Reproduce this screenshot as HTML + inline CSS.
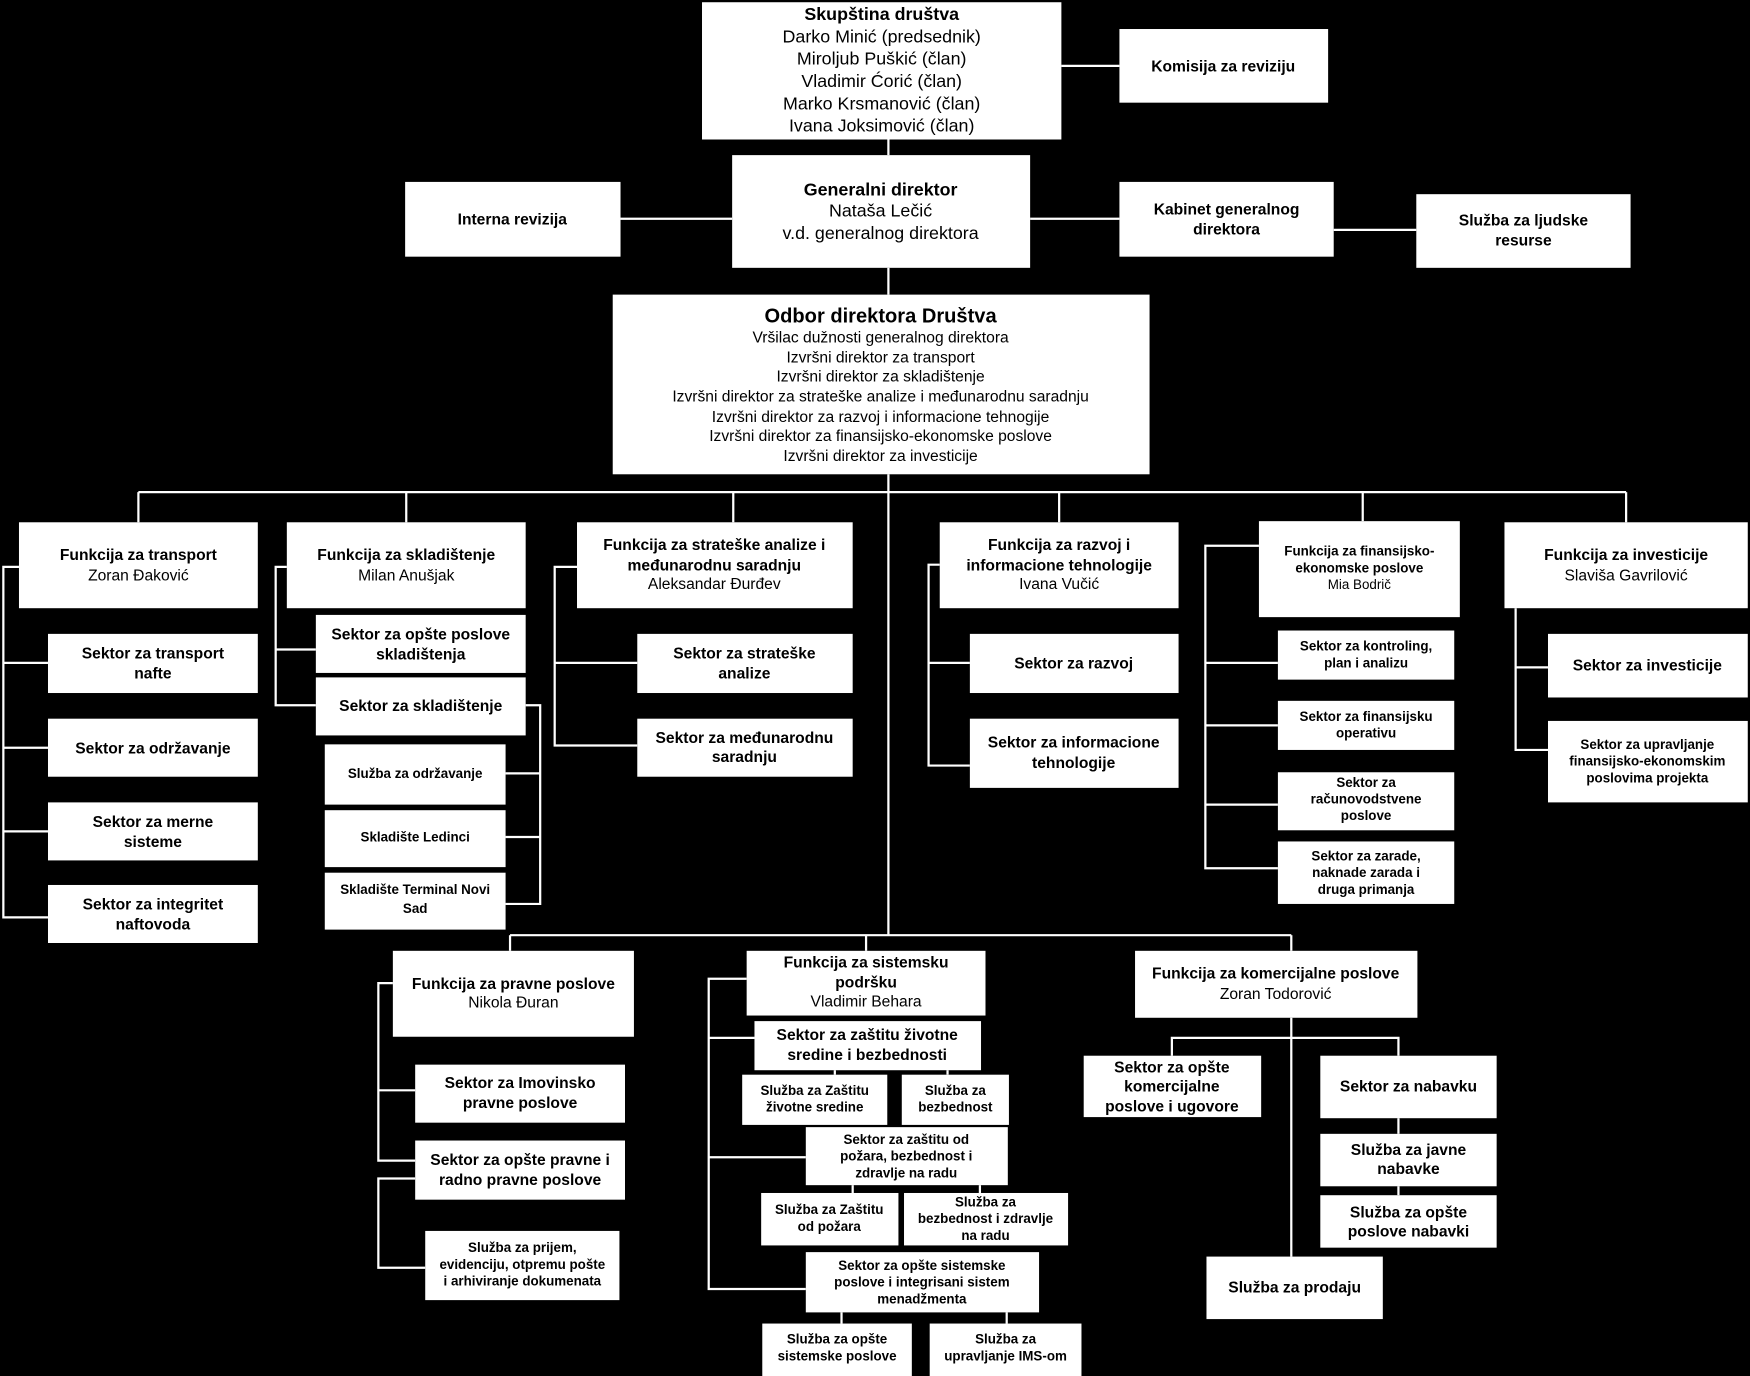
<!DOCTYPE html>
<html><head><meta charset="utf-8"><style>
html,body{margin:0;padding:0;background:#000;}
svg{display:block;}
text{font-family:"Liberation Sans",Arial,sans-serif;fill:#000;text-anchor:middle;}
.b{font-weight:bold;}
rect{fill:#fff;}
line,polyline{stroke:#fff;stroke-width:2;fill:none;}
</style></head><body>
<svg width="1750" height="1376" viewBox="0 0 1568 1233" preserveAspectRatio="none" xmlns="http://www.w3.org/2000/svg">
<rect x="0" y="0" width="1568" height="1233" style="fill:#000"/>
<!-- connectors -->
<line x1="951" y1="59" x2="1003" y2="59"/>
<line x1="796" y1="125" x2="796" y2="139"/>
<line x1="556" y1="196" x2="656" y2="196"/>
<line x1="923" y1="196" x2="1003" y2="196"/>
<line x1="1195" y1="206" x2="1269" y2="206"/>
<line x1="796" y1="240" x2="796" y2="264"/>
<line x1="796" y1="425" x2="796" y2="838"/>
<line x1="124" y1="441" x2="1457" y2="441"/>
<line x1="124" y1="441" x2="124" y2="468"/>
<line x1="364" y1="441" x2="364" y2="468"/>
<line x1="657" y1="441" x2="657" y2="468"/>
<line x1="949" y1="441" x2="949" y2="468"/>
<line x1="1221" y1="441" x2="1221" y2="467"/>
<line x1="1457" y1="441" x2="1457" y2="468"/>
<!-- transport -->
<polyline points="17,508 3,508 3,822 43,822"/>
<line x1="3" y1="594" x2="43" y2="594"/>
<line x1="3" y1="670" x2="43" y2="670"/>
<line x1="3" y1="745" x2="43" y2="745"/>
<!-- skladistenje -->
<polyline points="257,508 247,508 247,632 283,632"/>
<line x1="247" y1="582" x2="283" y2="582"/>
<polyline points="471,632 484,632 484,810 453,810"/>
<line x1="453" y1="693" x2="484" y2="693"/>
<line x1="453" y1="750" x2="484" y2="750"/>
<!-- strateske -->
<polyline points="517,508 497,508 497,668 571,668"/>
<line x1="497" y1="594" x2="571" y2="594"/>
<!-- razvoj -->
<polyline points="842,506 832,506 832,686 869,686"/>
<line x1="832" y1="594" x2="869" y2="594"/>
<!-- finansijsko -->
<polyline points="1128,489 1080,489 1080,778 1145,778"/>
<line x1="1080" y1="594" x2="1145" y2="594"/>
<line x1="1080" y1="650" x2="1145" y2="650"/>
<line x1="1080" y1="721" x2="1145" y2="721"/>
<!-- investicije -->
<polyline points="1358,545 1358,672 1387,672"/>
<line x1="1358" y1="598" x2="1387" y2="598"/>
<!-- bottom bus -->
<line x1="457" y1="838" x2="1157" y2="838"/>
<line x1="457" y1="838" x2="457" y2="852"/>
<line x1="776" y1="838" x2="776" y2="852"/>
<line x1="1157" y1="838" x2="1157" y2="852"/>
<!-- pravne -->
<polyline points="352,881 339,881 339,1040 372,1040"/>
<line x1="339" y1="977" x2="372" y2="977"/>
<polyline points="372,1056 339,1056 339,1136 381,1136"/>
<!-- sistemska -->
<polyline points="669,877 635,877 635,1155 722,1155"/>
<line x1="635" y1="930" x2="676" y2="930"/>
<line x1="635" y1="1037" x2="722" y2="1037"/>
<line x1="748" y1="959" x2="748" y2="963"/>
<line x1="849" y1="959" x2="849" y2="963"/>
<line x1="764" y1="1062" x2="764" y2="1069"/>
<line x1="878" y1="1062" x2="878" y2="1069"/>
<line x1="754" y1="1176" x2="754" y2="1186"/>
<line x1="902" y1="1176" x2="902" y2="1186"/>
<!-- komercijalne -->
<line x1="1157" y1="912" x2="1157" y2="1126"/>
<polyline points="1050,946 1050,930 1253,930 1253,946"/>
<line x1="1253" y1="1002" x2="1253" y2="1016"/>
<line x1="1253" y1="1063" x2="1253" y2="1071"/>

<!-- boxes -->
<rect x="629" y="2" width="322" height="123"/>
<text class="b" x="790" y="18" font-size="16">Skupština društva</text>
<text x="790" y="38" font-size="16">Darko Minić (predsednik)</text>
<text x="790" y="58" font-size="16">Miroljub Puškić (član)</text>
<text x="790" y="78" font-size="16">Vladimir Ćorić (član)</text>
<text x="790" y="98" font-size="16">Marko Krsmanović (član)</text>
<text x="790" y="118" font-size="16">Ivana Joksimović (član)</text>

<rect x="1003" y="26" width="187" height="66"/>
<text class="b" x="1096" y="64" font-size="14">Komisija za reviziju</text>

<rect x="656" y="139" width="267" height="101"/>
<text class="b" x="789" y="175" font-size="16">Generalni direktor</text>
<text x="789" y="194" font-size="16">Nataša Lečić</text>
<text x="789" y="214" font-size="16">v.d. generalnog direktora</text>

<rect x="363" y="163" width="193" height="67"/>
<text class="b" x="459" y="201" font-size="14">Interna revizija</text>

<rect x="1003" y="163" width="192" height="67"/>
<text class="b" x="1099" y="192" font-size="14">Kabinet generalnog</text>
<text class="b" x="1099" y="210" font-size="14">direktora</text>

<rect x="1269" y="174" width="192" height="66"/>
<text class="b" x="1365" y="202" font-size="14">Služba za ljudske</text>
<text class="b" x="1365" y="220" font-size="14">resurse</text>

<rect x="549" y="264" width="481" height="161"/>
<text class="b" x="789" y="289" font-size="18">Odbor direktora Društva</text>
<text x="789" y="307" font-size="14">Vršilac dužnosti generalnog direktora</text>
<text x="789" y="325" font-size="14">Izvršni direktor za transport</text>
<text x="789" y="342" font-size="14">Izvršni direktor za skladištenje</text>
<text x="789" y="360" font-size="14">Izvršni direktor za strateške analize i međunarodnu saradnju</text>
<text x="789" y="378" font-size="14">Izvršni direktor za razvoj i informacione tehnogije</text>
<text x="789" y="395" font-size="14">Izvršni direktor za finansijsko-ekonomske poslove</text>
<text x="789" y="413" font-size="14">Izvršni direktor za investicije</text>

<!-- functions -->
<rect x="17" y="468" width="214" height="77"/>
<text class="b" x="124" y="502" font-size="14">Funkcija za transport</text>
<text x="124" y="520" font-size="14">Zoran Đaković</text>
<rect x="257" y="468" width="214" height="77"/>
<text class="b" x="364" y="502" font-size="14">Funkcija za skladištenje</text>
<text x="364" y="520" font-size="14">Milan Anušjak</text>
<rect x="517" y="468" width="247" height="77"/>
<text class="b" x="640" y="493" font-size="14">Funkcija za strateške analize i</text>
<text class="b" x="640" y="511" font-size="14">međunarodnu saradnju</text>
<text x="640" y="528" font-size="14">Aleksandar Đurđev</text>
<rect x="842" y="468" width="214" height="77"/>
<text class="b" x="949" y="493" font-size="14">Funkcija za razvoj i</text>
<text class="b" x="949" y="511" font-size="14">informacione tehnologije</text>
<text x="949" y="528" font-size="14">Ivana Vučić</text>
<rect x="1128" y="467" width="180" height="86"/>
<text class="b" x="1218" y="498" font-size="12">Funkcija za finansijsko-</text>
<text class="b" x="1218" y="513" font-size="12">ekonomske poslove</text>
<text x="1218" y="528" font-size="12">Mia Bodrič</text>
<rect x="1348" y="468" width="218" height="77"/>
<text class="b" x="1457" y="502" font-size="14">Funkcija za investicije</text>
<text x="1457" y="520" font-size="14">Slaviša Gavrilović</text>

<!-- transport children -->
<rect x="43" y="568" width="188" height="53"/>
<text class="b" x="137" y="590" font-size="14">Sektor za transport</text>
<text class="b" x="137" y="608" font-size="14">nafte</text>
<rect x="43" y="644" width="188" height="52"/>
<text class="b" x="137" y="675" font-size="14">Sektor za održavanje</text>
<rect x="43" y="719" width="188" height="52"/>
<text class="b" x="137" y="741" font-size="14">Sektor za merne</text>
<text class="b" x="137" y="759" font-size="14">sisteme</text>
<rect x="43" y="793" width="188" height="52"/>
<text class="b" x="137" y="815" font-size="14">Sektor za integritet</text>
<text class="b" x="137" y="833" font-size="14">naftovoda</text>

<!-- skladistenje children -->
<rect x="283" y="551" width="188" height="52"/>
<text class="b" x="377" y="573" font-size="14">Sektor za opšte poslove</text>
<text class="b" x="377" y="591" font-size="14">skladištenja</text>
<rect x="283" y="607" width="188" height="52"/>
<text class="b" x="377" y="637" font-size="14">Sektor za skladištenje</text>
<rect x="291" y="667" width="162" height="54"/>
<text class="b" x="372" y="697" font-size="12">Služba za održavanje</text>
<rect x="291" y="726" width="162" height="51"/>
<text class="b" x="372" y="754" font-size="12">Skladište Ledinci</text>
<rect x="291" y="782" width="162" height="51"/>
<text class="b" x="372" y="801" font-size="12">Skladište Terminal Novi</text>
<text class="b" x="372" y="818" font-size="12">Sad</text>

<!-- strateske children -->
<rect x="571" y="568" width="193" height="53"/>
<text class="b" x="667" y="590" font-size="14">Sektor za strateške</text>
<text class="b" x="667" y="608" font-size="14">analize</text>
<rect x="571" y="644" width="193" height="52"/>
<text class="b" x="667" y="666" font-size="14">Sektor za međunarodnu</text>
<text class="b" x="667" y="683" font-size="14">saradnju</text>

<!-- razvoj children -->
<rect x="869" y="568" width="187" height="53"/>
<text class="b" x="962" y="599" font-size="14">Sektor za razvoj</text>
<rect x="869" y="644" width="187" height="62"/>
<text class="b" x="962" y="670" font-size="14">Sektor za informacione</text>
<text class="b" x="962" y="688" font-size="14">tehnologije</text>

<!-- finansijsko children -->
<rect x="1145" y="565" width="158" height="44"/>
<text class="b" x="1224" y="583" font-size="12">Sektor za kontroling,</text>
<text class="b" x="1224" y="598" font-size="12">plan i analizu</text>
<rect x="1145" y="628" width="158" height="44"/>
<text class="b" x="1224" y="646" font-size="12">Sektor za finansijsku</text>
<text class="b" x="1224" y="661" font-size="12">operativu</text>
<rect x="1145" y="692" width="158" height="52"/>
<text class="b" x="1224" y="705" font-size="12">Sektor za</text>
<text class="b" x="1224" y="720" font-size="12">računovodstvene</text>
<text class="b" x="1224" y="735" font-size="12">poslove</text>
<rect x="1145" y="754" width="158" height="56"/>
<text class="b" x="1224" y="771" font-size="12">Sektor za zarade,</text>
<text class="b" x="1224" y="786" font-size="12">naknade zarada i</text>
<text class="b" x="1224" y="801" font-size="12">druga primanja</text>

<!-- investicije children -->
<rect x="1387" y="568" width="179" height="57"/>
<text class="b" x="1476" y="601" font-size="14">Sektor za investicije</text>
<rect x="1387" y="646" width="179" height="73"/>
<text class="b" x="1476" y="671" font-size="12">Sektor za upravljanje</text>
<text class="b" x="1476" y="686" font-size="12">finansijsko-ekonomskim</text>
<text class="b" x="1476" y="701" font-size="12">poslovima projekta</text>

<!-- pravne -->
<rect x="352" y="852" width="216" height="77"/>
<text class="b" x="460" y="886" font-size="14">Funkcija za pravne poslove</text>
<text x="460" y="903" font-size="14">Nikola Đuran</text>
<rect x="372" y="954" width="188" height="52"/>
<text class="b" x="466" y="975" font-size="14">Sektor za Imovinsko</text>
<text class="b" x="466" y="993" font-size="14">pravne poslove</text>
<rect x="372" y="1022" width="188" height="53"/>
<text class="b" x="466" y="1044" font-size="14">Sektor za opšte pravne i</text>
<text class="b" x="466" y="1062" font-size="14">radno pravne poslove</text>
<rect x="381" y="1103" width="174" height="62"/>
<text class="b" x="468" y="1122" font-size="12">Služba za prijem,</text>
<text class="b" x="468" y="1137" font-size="12">evidenciju, otpremu pošte</text>
<text class="b" x="468" y="1152" font-size="12">i arhiviranje dokumenata</text>

<!-- sistemska -->
<rect x="669" y="852" width="214" height="58"/>
<text class="b" x="776" y="867" font-size="14">Funkcija za sistemsku</text>
<text class="b" x="776" y="885" font-size="14">podršku</text>
<text x="776" y="902" font-size="14">Vladimir Behara</text>
<rect x="676" y="915" width="203" height="44"/>
<text class="b" x="777" y="932" font-size="14">Sektor za zaštitu životne</text>
<text class="b" x="777" y="950" font-size="14">sredine i bezbednosti</text>
<rect x="665" y="963" width="130" height="45"/>
<text class="b" x="730" y="981" font-size="12">Služba za Zaštitu</text>
<text class="b" x="730" y="996" font-size="12">životne sredine</text>
<rect x="808" y="963" width="96" height="45"/>
<text class="b" x="856" y="981" font-size="12">Služba za</text>
<text class="b" x="856" y="996" font-size="12">bezbednost</text>
<rect x="722" y="1010" width="181" height="52"/>
<text class="b" x="812" y="1025" font-size="12">Sektor za zaštitu od</text>
<text class="b" x="812" y="1040" font-size="12">požara, bezbednost i</text>
<text class="b" x="812" y="1055" font-size="12">zdravlje na radu</text>
<rect x="682" y="1069" width="123" height="47"/>
<text class="b" x="743" y="1088" font-size="12">Služba za Zaštitu</text>
<text class="b" x="743" y="1103" font-size="12">od požara</text>
<rect x="810" y="1069" width="147" height="47"/>
<text class="b" x="883" y="1081" font-size="12">Služba za</text>
<text class="b" x="883" y="1096" font-size="12">bezbednost i zdravlje</text>
<text class="b" x="883" y="1111" font-size="12">na radu</text>
<rect x="722" y="1122" width="209" height="54"/>
<text class="b" x="826" y="1138" font-size="12">Sektor za opšte sistemske</text>
<text class="b" x="826" y="1153" font-size="12">poslove i integrisani sistem</text>
<text class="b" x="826" y="1168" font-size="12">menadžmenta</text>
<rect x="683" y="1186" width="134" height="47"/>
<text class="b" x="750" y="1204" font-size="12">Služba za opšte</text>
<text class="b" x="750" y="1219" font-size="12">sistemske poslove</text>
<rect x="833" y="1186" width="136" height="47"/>
<text class="b" x="901" y="1204" font-size="12">Služba za</text>
<text class="b" x="901" y="1219" font-size="12">upravljanje IMS-om</text>

<!-- komercijalne -->
<rect x="1017" y="852" width="253" height="60"/>
<text class="b" x="1143" y="877" font-size="14">Funkcija za komercijalne poslove</text>
<text x="1143" y="895" font-size="14">Zoran Todorović</text>
<rect x="971" y="946" width="159" height="55"/>
<text class="b" x="1050" y="961" font-size="14">Sektor za opšte</text>
<text class="b" x="1050" y="978" font-size="14">komercijalne</text>
<text class="b" x="1050" y="996" font-size="14">poslove i ugovore</text>
<rect x="1183" y="946" width="158" height="56"/>
<text class="b" x="1262" y="978" font-size="14">Sektor za nabavku</text>
<rect x="1183" y="1016" width="158" height="47"/>
<text class="b" x="1262" y="1035" font-size="14">Služba za javne</text>
<text class="b" x="1262" y="1052" font-size="14">nabavke</text>
<rect x="1183" y="1071" width="158" height="47"/>
<text class="b" x="1262" y="1091" font-size="14">Služba za opšte</text>
<text class="b" x="1262" y="1108" font-size="14">poslove nabavki</text>
<rect x="1081" y="1126" width="158" height="56"/>
<text class="b" x="1160" y="1158" font-size="14">Služba za prodaju</text>
</svg>
</body></html>
